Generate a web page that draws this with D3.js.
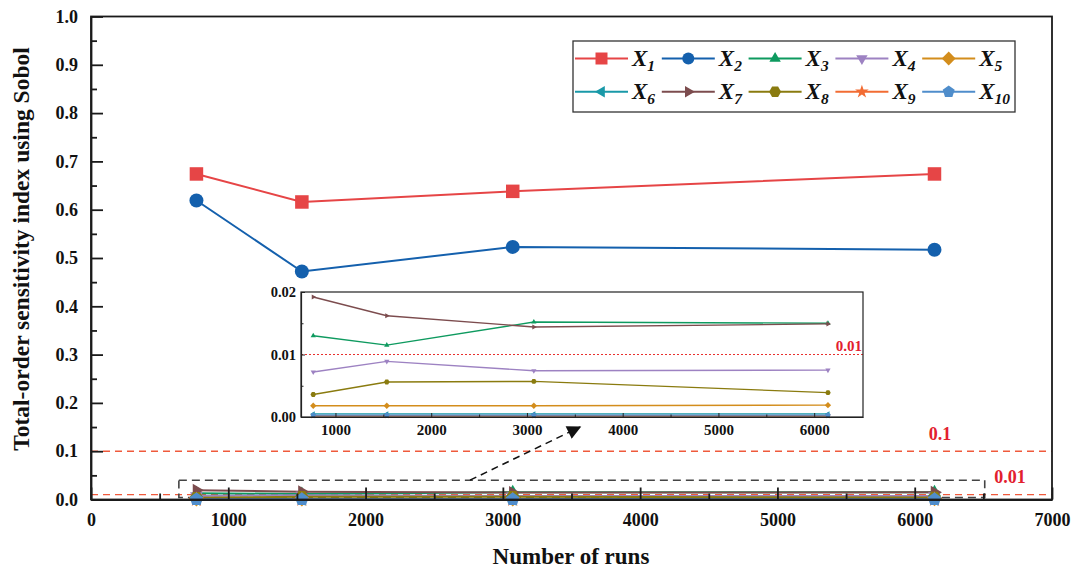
<!DOCTYPE html>
<html>
<head>
<meta charset="utf-8">
<script src="https://cdn.jsdelivr.net/npm/d3@7/dist/d3.min.js"></script>
<style>
  html, body { margin: 0; padding: 0; background: #fff; }
  svg { display: block; }
  text { font-family: "Liberation Serif", "Times New Roman", serif; font-weight: bold; }
</style>
</head>
<body>
<svg id="chart" width="1074" height="569"></svg>
<script>
// ---------------- DATA ----------------
const runs = [768, 1536, 3072, 6144];
const seriesNames = ["1", "2", "3", "4", "5", "6", "7", "8", "9", "10"];
const x1Values = [0.674, 0.616, 0.638, 0.674];
const x2Values = [0.619, 0.472, 0.523, 0.517];
const x3Values = [0.0130, 0.0115, 0.0152, 0.0150];
const x4Values = [0.0072, 0.0089, 0.0074, 0.0075];
const x5Values = [0.0018, 0.0018, 0.0018, 0.0019];
const x6Values = [0.0005, 0.0005, 0.0005, 0.0005];
const x7Values = [0.0192, 0.0162, 0.0144, 0.0149];
const x8Values = [0.0036, 0.0056, 0.0057, 0.0039];
const x9Values = [0.0002, 0.0002, 0.0002, 0.0002];
const x10Values = [0.0003, 0.0003, 0.0003, 0.0003];
const thresholds = [0.1, 0.01];
const thresholdLabels = ["0.1", "0.01"];
const xTicks = [0, 1000, 2000, 3000, 4000, 5000, 6000, 7000];
const yTicks = [0, 0.1, 0.2, 0.3, 0.4, 0.5, 0.6, 0.7, 0.8, 0.9, 1.0];
const insetXTicks = [1000, 2000, 3000, 4000, 5000, 6000];
const insetYTicks = [0, 0.01, 0.02];
const xLabel = "Number of runs";
const yLabel = "Total-order sensitivity index using Sobol";

const allValues = [x1Values, x2Values, x3Values, x4Values, x5Values, x6Values, x7Values, x8Values, x9Values, x10Values];
const colors = ["#e64546", "#1460ad", "#0e9a5f", "#9d82c2", "#d38d1c", "#1999a8", "#7c4c4e", "#8a7b0f", "#f26c33", "#4f8dcb"];
const shapes = ["square", "circle", "triUp", "triDown", "diamond", "triLeft", "triRight", "hexagon", "star", "pentagon"];

const series = seriesNames.map((n, i) => ({
  name: n, color: colors[i], shape: shapes[i],
  points: runs.map((r, j) => ({ x: r, y: allValues[i][j] }))
}));

// ---------------- MARKERS ----------------
function polygon(nSides, r, rot) {
  const pts = [];
  for (let k = 0; k < nSides; k++) {
    const a = rot + k * 2 * Math.PI / nSides;
    pts.push([r * Math.cos(a), r * Math.sin(a)]);
  }
  return "M" + pts.map(p => p[0].toFixed(2) + "," + p[1].toFixed(2)).join("L") + "Z";
}
function markerPath(shape, s) {
  const r = s / 2;
  switch (shape) {
    case "square": return `M${-r},${-r}H${r}V${r}H${-r}Z`;
    case "circle": return d3.symbol(d3.symbolCircle, Math.PI * r * r)();
    case "triUp": return polygon(3, r * 1.1, -Math.PI / 2);
    case "triDown": return polygon(3, r * 1.1, Math.PI / 2);
    case "triLeft": return polygon(3, r * 1.1, Math.PI);
    case "triRight": return polygon(3, r * 1.1, 0);
    case "diamond": return polygon(4, r * 1.15, -Math.PI / 2);
    case "hexagon": return polygon(6, r, 0);
    case "pentagon": return polygon(5, r * 1.05, -Math.PI / 2);
    case "star": return d3.symbol(d3.symbolStar, r * r * 1.6)();
  }
}

// ---------------- MAIN CHART ----------------
const svg = d3.select("#chart");
const mL = 91, mR = 1052, mT = 16.5, mB = 499.5;
const x = d3.scaleLinear().domain([0, 7000]).range([mL, mR]);
const y = d3.scaleLinear().domain([0, 1]).range([mB, mT]);

// threshold lines
const thrColor = "#ef5a3c";
svg.selectAll(".thr").data(thresholds).join("line")
  .attr("x1", mL).attr("x2", mR)
  .attr("y1", d => y(d)).attr("y2", d => y(d))
  .attr("stroke", thrColor).attr("stroke-width", 1.4).attr("stroke-dasharray", "7,5");
svg.append("text").attr("x", 940).attr("y", y(thresholds[0]) - 11)
  .attr("text-anchor", "middle").attr("fill", "#e2202e").attr("font-size", 18).text(thresholdLabels[0]);
svg.append("text").attr("x", 1010).attr("y", y(thresholds[1]) - 12)
  .attr("text-anchor", "middle").attr("fill", "#e2202e").attr("font-size", 18).text(thresholdLabels[1]);

// zoom rectangle
const rectX0 = 640, rectX1 = 6510, rectY1 = 0.04;
svg.append("rect")
  .attr("x", x(rectX0)).attr("y", y(rectY1))
  .attr("width", x(rectX1) - x(rectX0)).attr("height", y(0) - y(rectY1) - 2)
  .attr("fill", "none").attr("stroke", "#444").attr("stroke-width", 1.6).attr("stroke-dasharray", "8,5");

// main series
const line = d3.line().x(d => x(d.x)).y(d => y(d.y));
const mainG = svg.append("g");
series.forEach(s => {
  mainG.append("path").attr("d", line(s.points)).attr("fill", "none")
    .attr("stroke", s.color).attr("stroke-width", 2);
});
series.forEach(s => {
  mainG.selectAll(null).data(s.points).join("path")
    .attr("transform", d => `translate(${x(d.x)},${y(d.y)})`)
    .attr("d", markerPath(s.shape, s.shape === "circle" ? 14 : 13.5))
    .attr("fill", s.color);
});

// axes
const axisG = svg.append("g");
axisG.append("rect").attr("x", mL).attr("y", mT).attr("width", mR - mL).attr("height", mB - mT)
  .attr("fill", "none").attr("stroke", "#1a1a1a").attr("stroke-width", 1.8);

const xAxis = d3.axisBottom(x).tickValues(xTicks).tickFormat(d3.format("d")).tickSizeInner(-12).tickSizeOuter(0).tickPadding(14);
const gx = axisG.append("g").attr("transform", `translate(0,${mB})`).call(xAxis);
gx.select(".domain").attr("stroke", "#1a1a1a").attr("stroke-width", 1.8);
gx.selectAll(".tick line").attr("stroke", "#1a1a1a").attr("stroke-width", 1.8);
gx.selectAll("text").attr("font-size", 18).attr("font-family", "Liberation Serif").attr("font-weight", "bold").attr("fill", "#111");
const xMinor = d3.axisBottom(x).tickValues(d3.range(500, 7000, 1000)).tickFormat("").tickSizeInner(-6).tickSizeOuter(0);
const gxm = axisG.append("g").attr("transform", `translate(0,${mB})`).call(xMinor);
gxm.select(".domain").remove();
gxm.selectAll(".tick line").attr("stroke", "#1a1a1a").attr("stroke-width", 1.8);

const yAxis = d3.axisLeft(y).tickValues(yTicks).tickFormat(d3.format(".1f")).tickSizeInner(-12).tickSizeOuter(0).tickPadding(13);
const gy = axisG.append("g").attr("transform", `translate(${mL},0)`).call(yAxis);
gy.select(".domain").attr("stroke", "#1a1a1a").attr("stroke-width", 1.8);
gy.selectAll(".tick line").attr("stroke", "#1a1a1a").attr("stroke-width", 1.8);
gy.selectAll("text").attr("font-size", 18).attr("font-family", "Liberation Serif").attr("font-weight", "bold").attr("fill", "#111");
const yMinor = d3.axisLeft(y).tickValues(d3.range(0.05, 1, 0.1)).tickFormat("").tickSizeInner(-6).tickSizeOuter(0);
const gym = axisG.append("g").attr("transform", `translate(${mL},0)`).call(yMinor);
gym.select(".domain").remove();
gym.selectAll(".tick line").attr("stroke", "#1a1a1a").attr("stroke-width", 1.8);

// axis titles
svg.append("text").attr("x", 571).attr("y", 564).attr("text-anchor", "middle")
  .attr("font-size", 23).attr("fill", "#111").text(xLabel);
svg.append("text").attr("transform", `translate(29,249) rotate(-90)`)
  .attr("text-anchor", "middle").attr("font-size", 23.5).attr("fill", "#111").text(yLabel);

// arrow
const defs = svg.append("defs");
defs.append("marker").attr("id", "arrowhead").attr("viewBox", "0 0 10 10")
  .attr("refX", 9).attr("refY", 5).attr("markerWidth", 20).attr("markerHeight", 14)
  .attr("markerUnits", "userSpaceOnUse").attr("orient", "auto")
  .append("path").attr("d", "M0,0L10,5L0,10Z").attr("fill", "#111");
svg.append("line").attr("x1", 470).attr("y1", y(rectY1)).attr("x2", 580).attr("y2", 427)
  .attr("stroke", "#111").attr("stroke-width", 1.5).attr("stroke-dasharray", "7,5")
  .attr("marker-end", "url(#arrowhead)");

// ---------------- INSET ----------------
const iL = 301, iR = 863, iT = 292, iB = 417;
const ix = d3.scaleLinear().domain([rectX0, rectX1]).range([iL, iR]);
const iy = d3.scaleLinear().domain([0, 0.02]).range([iB, iT]);
const inset = svg.append("g");
inset.append("rect").attr("x", iL).attr("y", iT).attr("width", iR - iL).attr("height", iB - iT).attr("fill", "#fff");
inset.append("line").attr("x1", iL).attr("x2", iR).attr("y1", iy(0.01)).attr("y2", iy(0.01))
  .attr("stroke", "#e8302e").attr("stroke-width", 1).attr("stroke-dasharray", "2,2");
inset.append("text").attr("x", iR - 1).attr("y", iy(0.01) - 4).attr("text-anchor", "end")
  .attr("fill", "#e2202e").attr("font-size", 15).text(thresholdLabels[1]);
const iline = d3.line().x(d => ix(d.x)).y(d => iy(d.y));
series.slice(2).forEach(s => {
  inset.append("path").attr("d", iline(s.points)).attr("fill", "none")
    .attr("stroke", s.color).attr("stroke-width", 1.3);
  inset.selectAll(null).data(s.points).join("path")
    .attr("transform", d => `translate(${ix(d.x)},${iy(d.y)})`)
    .attr("d", markerPath(s.shape, 5.5)).attr("fill", s.color);
});
inset.append("rect").attr("x", iL).attr("y", iT).attr("width", iR - iL).attr("height", iB - iT)
  .attr("fill", "none").attr("stroke", "#222").attr("stroke-width", 1.2);
const ixAxis = d3.axisBottom(ix).tickValues(insetXTicks).tickFormat(d3.format("d")).tickSizeInner(-4).tickSizeOuter(0).tickPadding(7);
const gix = inset.append("g").attr("transform", `translate(0,${iB})`).call(ixAxis);
gix.select(".domain").attr("stroke", "#222").attr("stroke-width", 1.2);
gix.selectAll(".tick line").attr("stroke", "#222");
gix.selectAll("text").attr("font-size", 15).attr("font-family", "Liberation Serif").attr("font-weight", "bold").attr("fill", "#111");
const ixMinor = d3.axisBottom(ix).tickValues(d3.range(1500, 6500, 1000)).tickFormat("").tickSizeInner(-2.5).tickSizeOuter(0);
const gixm = inset.append("g").attr("transform", `translate(0,${iB})`).call(ixMinor);
gixm.select(".domain").remove();
gixm.selectAll(".tick line").attr("stroke", "#222");
const iyAxis = d3.axisLeft(iy).tickValues(insetYTicks).tickFormat(d3.format(".2f")).tickSizeInner(-4).tickSizeOuter(0).tickPadding(5);
const giy = inset.append("g").attr("transform", `translate(${iL},0)`).call(iyAxis);
giy.select(".domain").attr("stroke", "#222").attr("stroke-width", 1.2);
giy.selectAll(".tick line").attr("stroke", "#222");
giy.selectAll("text").attr("font-size", 14.5).attr("font-family", "Liberation Serif").attr("font-weight", "bold").attr("fill", "#111");
const iyMinor = d3.axisLeft(iy).tickValues([0.005, 0.015]).tickFormat("").tickSizeInner(-2.5).tickSizeOuter(0);
const giym = inset.append("g").attr("transform", `translate(${iL},0)`).call(iyMinor);
giym.select(".domain").remove();
giym.selectAll(".tick line").attr("stroke", "#222");

// ---------------- LEGEND ----------------
const lg = svg.append("g");
const lgX = 573, lgY = 41, lgW = 442, lgH = 71;
lg.append("rect").attr("x", lgX).attr("y", lgY).attr("width", lgW).attr("height", lgH)
  .attr("fill", "#fff").attr("stroke", "#333").attr("stroke-width", 1.3);
series.forEach((s, i) => {
  const col = i % 5, row = Math.floor(i / 5);
  const x0 = 575 + col * 86.8, yy = 58.5 + row * 33.3;
  lg.append("line").attr("x1", x0).attr("x2", x0 + 53).attr("y1", yy).attr("y2", yy)
    .attr("stroke", s.color).attr("stroke-width", 2);
  lg.append("path").attr("transform", `translate(${x0 + 26.5},${yy})`)
    .attr("d", markerPath(s.shape, 12)).attr("fill", s.color);
  const t = lg.append("text").attr("x", x0 + 57).attr("y", yy + 7.5)
    .attr("font-size", 23).attr("font-style", "italic").attr("fill", "#111");
  t.append("tspan").text("X");
  t.append("tspan").attr("font-size", 15.5).attr("dy", 5).text(s.name);
});
</script>
</body>
</html>
